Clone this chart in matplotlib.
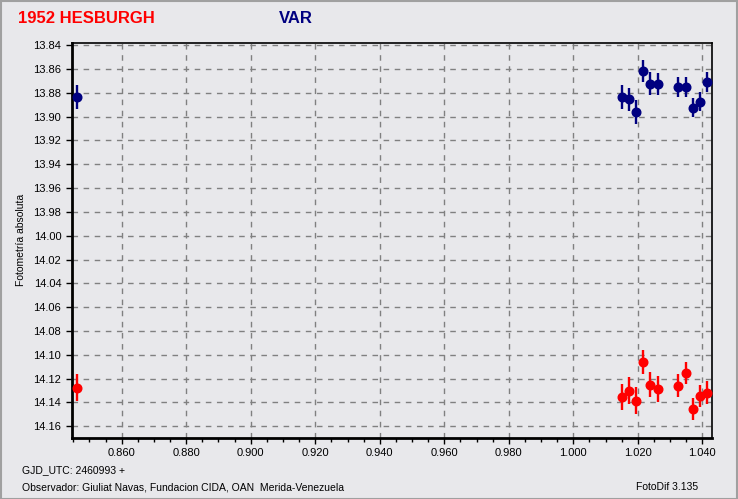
import numpy as np
import matplotlib
matplotlib.use("Agg")
import matplotlib.pyplot as plt
from matplotlib.ticker import MultipleLocator, FormatStrFormatter
from matplotlib.patches import Rectangle

plt.rcParams['font.family'] = ['Liberation Sans', 'DejaVu Sans']

# GJD - 2460993 for each observation
jd = [0.8461, 1.0150, 1.0173, 1.0194, 1.0217, 1.0238, 1.0263,
      1.0325, 1.0350, 1.0371, 1.0393, 1.0415]

# VAR (blue) magnitudes and errors
var_mag = [13.8834, 13.8834, 13.8853, 13.8962, 13.8616, 13.8725, 13.8725,
           13.8750, 13.8750, 13.8926, 13.8876, 13.8708]
var_err = [0.0100, 0.0100, 0.0097, 0.0099, 0.0095, 0.0095, 0.0093,
           0.0085, 0.0082, 0.0080, 0.0080, 0.0085]

# reference star (red) magnitudes and errors
ref_mag = [14.1278, 14.1354, 14.1301, 14.1385, 14.1060, 14.1251, 14.1287,
           14.1259, 14.1150, 14.1455, 14.1343, 14.1318]
ref_err = [0.0113, 0.0113, 0.0113, 0.0113, 0.0104, 0.0105, 0.0105,
           0.0097, 0.0092, 0.0095, 0.0092, 0.0099]

BG = "#E8E8EB"

fig = plt.figure(figsize=(7.38, 4.99), dpi=100, facecolor=BG)
ax = fig.add_axes([0.0972, 0.1228, 0.868, 0.7916], facecolor=BG)

ax.errorbar(jd, var_mag, yerr=var_err, fmt='o', color='#000080', ms=6.2,
            elinewidth=1.7, capsize=0, zorder=3)
ax.errorbar(jd, ref_mag, yerr=ref_err, fmt='o', color='#FF0000', ms=6.2,
            elinewidth=1.7, capsize=0, zorder=3)

ax.set_xlim(0.8445, 1.0431)
ax.set_ylim(14.1696, 13.838)

ax.xaxis.set_major_locator(MultipleLocator(0.02))
ax.xaxis.set_minor_locator(MultipleLocator(0.005))
ax.xaxis.set_major_formatter(FormatStrFormatter('%.3f'))
ax.yaxis.set_major_locator(MultipleLocator(0.02))
ax.yaxis.set_major_formatter(FormatStrFormatter('%.2f'))

ax.grid(True, which='major', color='#808080', linestyle=(0, (4, 4)), linewidth=1)
ax.tick_params(axis='both', which='major', direction='out', length=4,
               width=1, labelsize=8, colors='black')
ax.tick_params(axis='x', which='minor', direction='out', length=3, width=1)
ax.tick_params(axis='y', which='minor', left=False)

for side in ['left', 'bottom']:
    ax.spines[side].set_linewidth(2)
for side in ['top', 'right']:
    ax.spines[side].set_linewidth(1.2)

ax.set_ylabel('Fotometría absoluta', fontsize=7.5, labelpad=8)
ax.yaxis.set_label_coords(-0.072, 0.5)

fig.text(0.025, 0.962, '1952 HESBURGH', color='#FF0000', fontsize=12,
         fontweight='bold', va='center')
fig.text(0.378, 0.962, 'VAR', color='#000080', fontsize=12,
         fontweight='bold', va='center')

fig.text(0.030, 0.058, 'GJD_UTC: 2460993 +', fontsize=7.5, va='center')
fig.text(0.030, 0.024, 'Observador: Giuliat Navas, Fundacion CIDA, OAN  Merida-Venezuela',
         fontsize=7.5, va='center')
fig.text(0.862, 0.024, 'FotoDif 3.135', fontsize=7.5, va='center')

fig.patches.append(Rectangle((0.001, 0.001), 0.997, 0.997, transform=fig.transFigure,
                             fill=False, edgecolor='#A0A0A0', linewidth=1.5))

fig.savefig("out.png", dpi=100, facecolor=BG)
